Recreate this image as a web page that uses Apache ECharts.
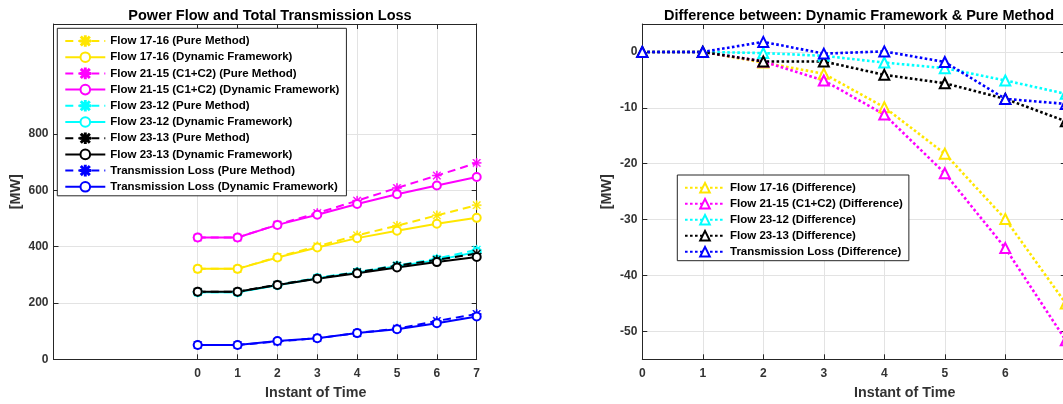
<!DOCTYPE html>
<html>
<head>
<meta charset="utf-8">
<script src="https://cdn.jsdelivr.net/npm/echarts@6/dist/echarts.min.js"></script>
<style>
html,body{margin:0;padding:0;background:#fff;}
#chart{width:1063px;height:404px;}
</style>
</head>
<body>
<div id="chart"></div>
<script>
// ---- data ----
const times = [0, 1, 2, 3, 4, 5, 6, 7];
const leftYTicks = [0, 200, 400, 600, 800];
const rightYTicks = [-50, -40, -30, -20, -10, 0];

const flow1716Pure = [321, 321, 363, 401, 440, 474, 511, 547];
const flow1716Dyn  = [321, 321, 361, 397, 430, 456, 481, 502];
const flow2115Pure = [432, 432, 478, 519, 563, 608, 652, 697];
const flow2115Dyn  = [432, 432, 477, 513, 551, 586, 617, 647];
const flow2312Pure = [238, 238, 264, 289, 310, 333, 357, 389];
const flow2312Dyn  = [238, 238, 263, 288, 308, 330, 352, 381];
const flow2313Pure = [240, 240, 265, 287, 309, 332, 353, 375];
const flow2313Dyn  = [240, 240, 264, 286, 305, 326, 345, 363];
const lossPure     = [51, 51, 63, 75, 93, 109, 136, 161];
const lossDyn      = [51, 51, 65, 75, 93, 107, 128, 152];

const diff1716 = [0, 0, -1.9, -3.9, -9.9, -18.2, -29.9, -45.0];
const diff2115 = [0, 0, -1.7, -5.1, -11.2, -21.7, -35.1, -51.6];
const diff2312 = [0, 0, -0.2, -0.7, -1.9, -2.9, -5.1, -7.5];
const diff2313 = [0, 0, -1.7, -1.7, -4.1, -5.6, -8.4, -12.4];
const diffLoss = [0, 0, 1.8, -0.3, 0.1, -1.8, -8.4, -9.3];

const names = {
  p1716: 'Flow 17-16 (Pure Method)', d1716: 'Flow 17-16 (Dynamic Framework)',
  p2115: 'Flow 21-15 (C1+C2) (Pure Method)', d2115: 'Flow 21-15 (C1+C2) (Dynamic Framework)',
  p2312: 'Flow 23-12 (Pure Method)', d2312: 'Flow 23-12 (Dynamic Framework)',
  p2313: 'Flow 23-13 (Pure Method)', d2313: 'Flow 23-13 (Dynamic Framework)',
  pLoss: 'Transmission Loss (Pure Method)', dLoss: 'Transmission Loss (Dynamic Framework)',
  x1716: 'Flow 17-16 (Difference)', x2115: 'Flow 21-15 (C1+C2) (Difference)',
  x2312: 'Flow 23-12 (Difference)', x2313: 'Flow 23-13 (Difference)', xLoss: 'Transmission Loss (Difference)'
};

// ---- styling ----
const FONT = 'Liberation Sans, Arial, sans-serif';
const AX = '#262626';
const TXT = '#333333';
const GRIDC = '#e3e3e3';
const YEL = '#ffe600', MAG = '#ff00ff', CYA = '#00ffff', BLK = '#000000', BLU = '#0000ff';
const STAR = 'path://M10.8 0h2.4v24h-2.4z M0 10.8h24v2.4h-24z M3.3 1.6L22.4 20.7L20.7 22.4L1.6 3.3z M20.7 1.6L22.4 3.3L3.3 22.4L1.6 20.7z';

function pair(arr) { return times.map((t, i) => [t, arr[i]]); }

function pureSeries(name, color, arr) {
  return { name, type: 'line', xAxisIndex: 0, yAxisIndex: 0, data: pair(arr),
    symbol: STAR, symbolSize: 9, itemStyle: { color, borderColor: color, borderWidth: 0.6 },
    lineStyle: { color, width: 2, type: [8, 5] }, animation: false, z: 2 };
}
function dynSeries(name, color, arr) {
  return { name, type: 'line', xAxisIndex: 0, yAxisIndex: 0, data: pair(arr),
    symbol: 'emptyCircle', symbolSize: 8, itemStyle: { color, borderWidth: 1.6 },
    lineStyle: { color, width: 2 }, animation: false, z: 2 };
}
function diffSeries(name, color, arr) {
  return { name, type: 'line', xAxisIndex: 2, yAxisIndex: 2, data: pair(arr),
    symbol: 'emptyTriangle', symbolSize: 10, itemStyle: { color, borderWidth: 2.2 },
    lineStyle: { color, width: 2.6, type: [2.6, 2.4], cap: 'butt' }, animation: false, z: 2 };
}

const labelStyle = { fontFamily: FONT, fontWeight: 'bold', fontSize: 12, color: TXT };

function mainX(grid, min, max) {
  return { gridIndex: grid, type: 'value', min, max, position: 'bottom',
    axisLine: { show: true, onZero: false, lineStyle: { color: AX, width: 1 } },
    axisTick: { show: true, inside: true, length: 5, customValues: times, lineStyle: { color: AX } },
    axisLabel: Object.assign({ customValues: times, margin: 8, hideOverlap: false }, labelStyle),
    splitLine: { show: true, lineStyle: { color: GRIDC, width: 1 } } };
}
function mirrorX(grid, min, max) {
  return { gridIndex: grid, type: 'value', min, max, position: 'top',
    axisLine: { show: true, onZero: false, lineStyle: { color: AX, width: 1 } },
    axisTick: { show: true, inside: true, length: 5, customValues: times, lineStyle: { color: AX } },
    axisLabel: { show: false }, splitLine: { show: false } };
}
function mainY(grid, min, max, ticks) {
  return { gridIndex: grid, type: 'value', min, max, position: 'left',
    axisLine: { show: true, onZero: false, lineStyle: { color: AX, width: 1 } },
    axisTick: { show: true, inside: true, length: 5, customValues: ticks, lineStyle: { color: AX } },
    axisLabel: Object.assign({ customValues: ticks, margin: 5 }, labelStyle),
    splitLine: { show: true, lineStyle: { color: GRIDC, width: 1 } } };
}
function mirrorY(grid, min, max, ticks) {
  return { gridIndex: grid, type: 'value', min, max, position: 'right',
    axisLine: { show: true, onZero: false, lineStyle: { color: AX, width: 1 } },
    axisTick: { show: true, inside: true, length: 5, customValues: ticks, lineStyle: { color: AX } },
    axisLabel: { show: false }, splitLine: { show: false } };
}

const legendText = { fontFamily: FONT, fontWeight: 'bold', fontSize: 11.5, color: '#000', lineHeight: 12 };

const option = {
  backgroundColor: '#fff',
  animation: false,
  title: [
    { text: 'Power Flow and Total Transmission Loss', left: 265, top: 3, textAlign: 'center',
      textStyle: { fontFamily: FONT, fontWeight: 'bold', fontSize: 14.5, color: '#000' } },
    { text: 'Difference between: Dynamic Framework & Pure Method', left: 854, top: 3, textAlign: 'center',
      textStyle: { fontFamily: FONT, fontWeight: 'bold', fontSize: 14.5, color: '#000' } }
  ],
  grid: [
    { left: 53.5, top: 24, width: 423.2, height: 335.3, containLabel: false, outerBoundsMode: 'none', show: false },
    { left: 642.3, top: 24, width: 423.5, height: 335.3, containLabel: false, outerBoundsMode: 'none', show: false }
  ],
  xAxis: [ mainX(0, -3.618, 7), mirrorX(0, -3.618, 7), mainX(1, 0, 7), mirrorX(1, 0, 7) ],
  yAxis: [ mainY(0, 0, 1190, leftYTicks), mirrorY(0, 0, 1190, leftYTicks),
           mainY(1, -55, 5, rightYTicks), mirrorY(1, -55, 5, rightYTicks) ],
  legend: [
    { orient: 'vertical', left: 57.3, top: 28.3, itemWidth: 40, itemHeight: 12, itemGap: 4.2,
      padding: [6.7, 7, 3, 7], backgroundColor: '#fff', borderColor: AX, borderWidth: 1,
      textStyle: legendText, selectedMode: false,
      data: [names.p1716, names.d1716, names.p2115, names.d2115, names.p2312, names.d2312,
             names.p2313, names.d2313, names.pLoss, names.dLoss] },
    { orient: 'vertical', left: 677.3, top: 175, itemWidth: 40, itemHeight: 12, itemGap: 4,
      padding: [6.7, 6, 3, 6.7], backgroundColor: '#fff', borderColor: AX, borderWidth: 1,
      textStyle: legendText, selectedMode: false,
      data: [names.x1716, names.x2115, names.x2312, names.x2313, names.xLoss] }
  ],
  graphic: [
    { type: 'text', left: 265, top: 386, style: { text: 'Instant of Time', fontFamily: FONT, fontWeight: 'bold', fontSize: 14.3, fill: TXT, textAlign: 'center' }, z: 10 },
    { type: 'text', left: 854, top: 386, style: { text: 'Instant of Time', fontFamily: FONT, fontWeight: 'bold', fontSize: 14.3, fill: TXT, textAlign: 'center' }, z: 10 },
    { type: 'text', x: 16, y: 191.7, rotation: Math.PI / 2, style: { text: '[MW]', fontFamily: FONT, fontWeight: 'bold', fontSize: 14.3, fill: TXT, align: 'center', verticalAlign: 'middle' }, z: 10 },
    { type: 'text', x: 606.7, y: 191.7, rotation: Math.PI / 2, style: { text: '[MW]', fontFamily: FONT, fontWeight: 'bold', fontSize: 14.3, fill: TXT, align: 'center', verticalAlign: 'middle' }, z: 10 }
  ],
  series: [
    pureSeries(names.p1716, YEL, flow1716Pure), dynSeries(names.d1716, YEL, flow1716Dyn),
    pureSeries(names.p2115, MAG, flow2115Pure), dynSeries(names.d2115, MAG, flow2115Dyn),
    pureSeries(names.p2312, CYA, flow2312Pure), dynSeries(names.d2312, CYA, flow2312Dyn),
    pureSeries(names.p2313, BLK, flow2313Pure), dynSeries(names.d2313, BLK, flow2313Dyn),
    pureSeries(names.pLoss, BLU, lossPure), dynSeries(names.dLoss, BLU, lossDyn),
    diffSeries(names.x1716, YEL, diff1716), diffSeries(names.x2115, MAG, diff2115),
    diffSeries(names.x2312, CYA, diff2312), diffSeries(names.x2313, BLK, diff2313),
    diffSeries(names.xLoss, BLU, diffLoss)
  ]
};

const chart = echarts.init(document.getElementById('chart'), null, { renderer: 'canvas' });
chart.setOption(option);
</script>
</body>
</html>
